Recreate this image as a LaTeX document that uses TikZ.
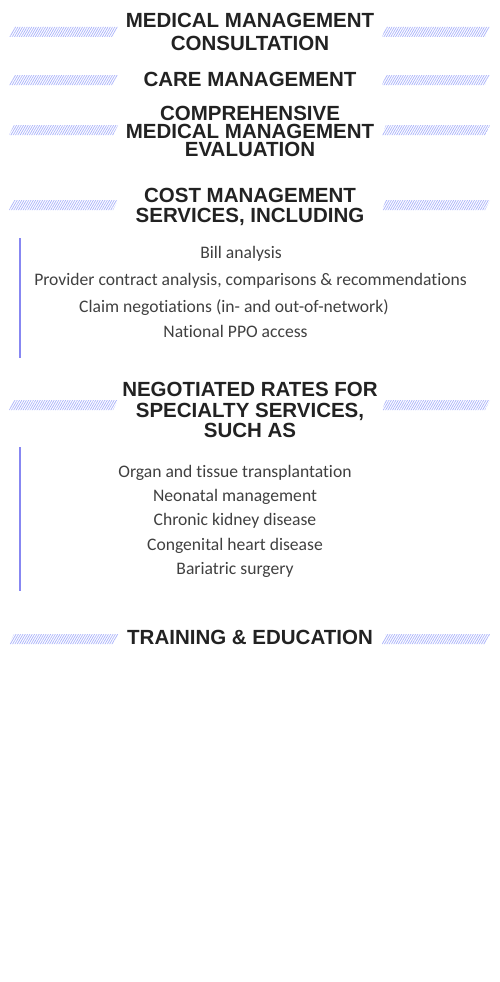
\documentclass[tikz,border=0pt]{standalone}
\usepackage{fontspec}
\setmainfont{Liberation Sans}
\newfontfamily\headfont{Liberation Sans}
\newfontfamily\itemfont[Ligatures=NoCommon]{Carlito}
\usepackage{tikz}
\usetikzlibrary{positioning,patterns.meta}
\definecolor{inkdark}{HTML}{222222}
\definecolor{inkgray}{HTML}{404040}
\definecolor{hatch}{RGB}{172,180,250}
\definecolor{rulecol}{RGB}{135,135,242}
\newcommand{\Stripes}[1]{%
  \fill[pattern={Lines[angle=60,distance=2pt,line width=0.75pt]},pattern color=hatch]
    (9,-#1-5) -- (113,-#1-5) -- (118,-#1+5) -- (14,-#1+5) -- cycle
    (382,-#1-5) -- (485,-#1-5) -- (490,-#1+5) -- (386,-#1+5) -- cycle;}

\begin{document}
\begin{tikzpicture}[x=1pt, y=1pt, node distance=8pt,
    heading/.style={anchor=north, inner sep=0pt, align=center, text=inkdark,
      font=\headfont\bfseries\fontsize{20.5}{#1}\selectfont},
    heading/.default=20,
    item/.style={inner sep=0pt, text=inkgray, text height=12pt, text depth=4pt,
      font=\itemfont\fontsize{17.6}{20}\selectfont}]
        \useasboundingbox (0,0) rectangle (500,-982);

        \Stripes{32}
        \Stripes{80}
        \Stripes{130}
        \Stripes{205}
        \Stripes{405}
        \Stripes{639}

        \node[heading=23] (h_1) at (250,-13) {MEDICAL MANAGEMENT\\CONSULTATION};
        \node[heading] (h_2) at (250,-72) {CARE MANAGEMENT};
        \node[heading=18] (h_3) at (250,-106) {COMPREHENSIVE\\MEDICAL MANAGEMENT\\EVALUATION};
        \node[heading] (h_4) at (250,-188) {COST MANAGEMENT\\SERVICES, INCLUDING};

        \node[item, anchor=base] (c_1) at (241,-258.5) {Bill analysis};
        \node[item, anchor=base] (c_2) at (250.5,-285.3) {Provider contract analysis, comparisons \& recommendations};
        \node[item, anchor=base] (c_3) at (234,-312) {Claim negotiations (in- and out-of-network)};
        \node[item, anchor=base] (c_4) at (235.5,-337) {National PPO access};

        \node[heading=20.5] (h_5) at (250,-382) {NEGOTIATED RATES FOR\\SPECIALTY SERVICES,\\SUCH AS};

        \node[item, anchor=base] (s_1) at (235,-477) {Organ and tissue transplantation};
        \node[item] (s_2) [below = of s_1] {Neonatal management};
        \node[item] (s_3) [below = of s_2] {Chronic kidney disease};
        \node[item] (s_4) [below = of s_3] {Congenital heart disease};
        \node[item] (s_5) [below = of s_4] {Bariatric surgery};

        \node[heading] (h_6) at (250,-630) {TRAINING \& EDUCATION};

        \coordinate (r_1) at (20,-238);
        \coordinate (r_2) at (20,-358);
        \coordinate (r_3) at (20,-447);
        \coordinate (r_4) at (20,-591);
        \draw[rulecol, line width=1.2pt] (r_1) -- (r_2);
        \draw[rulecol, line width=1.2pt] (r_3) -- (r_4);
      \end{tikzpicture}
\end{document}
